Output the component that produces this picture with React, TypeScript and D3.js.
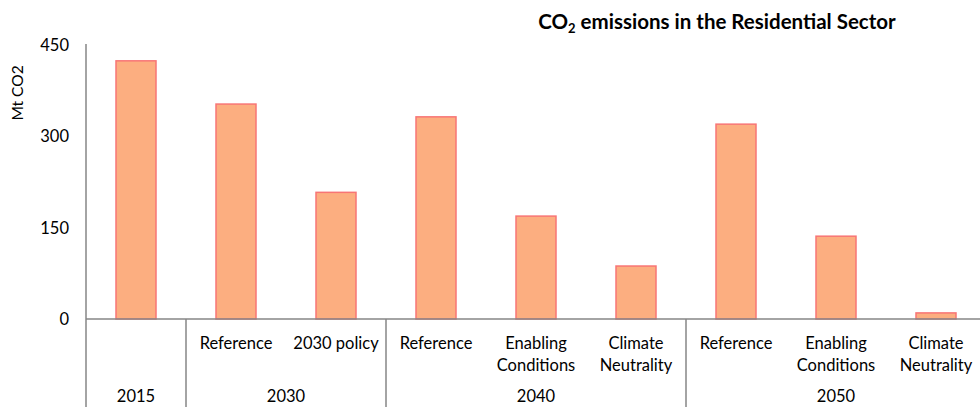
import React from "react";
import * as d3 from "d3";

const categories = ["2015", "2030-Reference", "2030-2030 policy", "2040-Reference", "2040-Enabling Conditions", "2040-Climate Neutrality", "2050-Reference", "2050-Enabling Conditions", "2050-Climate Neutrality"];
const subLabels = [[""], ["Reference"], ["2030 policy"], ["Reference"], ["Enabling", "Conditions"], ["Climate", "Neutrality"], ["Reference"], ["Enabling", "Conditions"], ["Climate", "Neutrality"]];
const values = [424, 353, 208, 332, 169, 87, 320, 136, 10];
const groups = ["2015", "2030", "2040", "2050"];
const groupSizes = [1, 2, 3, 3];
const yTicks = [0, 150, 300, 450];

const W = 980, H = 407;
const left = 86, right = 986, top = 45, zeroY = 319;
const FONT = "Lato, 'Open Sans', sans-serif";

export default function App() {
  const x = d3.scaleBand<string>().domain(categories).range([left, right]).paddingInner(0.6).paddingOuter(0.3);
  const y = d3.scaleLinear().domain([0, 450]).range([zeroY, top]);
  const step = x.step();
  const bw = x.bandwidth();
  const pad = x.paddingOuter() * step;

  const groupBounds: { name: string; x0: number; x1: number }[] = [];
  let idx = 0;
  groups.forEach((g, i) => {
    const first = categories[idx];
    const last = categories[idx + groupSizes[i] - 1];
    const x0 = (x(first) as number) - pad;
    const x1 = (x(last) as number) + bw + pad;
    groupBounds.push({ name: g, x0, x1 });
    idx += groupSizes[i];
  });

  const axisColor = "#868686";

  return (
    <svg width={W} height={H} style={{ position: "absolute", left: 0, top: 0, background: "#fff" }}>
      <text x={717} y={29} textAnchor="middle" fontFamily={FONT} fontWeight="bold" fontSize={20.5} fill="#000">
        CO<tspan fontSize={13} dy={4}>2</tspan>
        <tspan dy={-4}> emissions in the Residential Sector</tspan>
      </text>
      <text transform={`translate(23,${93}) rotate(-90)`} textAnchor="middle" fontFamily={FONT} fontSize={15.5} fill="#000">
        Mt CO2
      </text>
      {yTicks.map((t) => (
        <text key={t} x={69} y={y(t)} dy="0.36em" textAnchor="end" fontFamily={FONT} fontSize={16.5} fill="#000">
          {t}
        </text>
      ))}
      {categories.map((c, i) => (
        <rect key={c} x={x(c)} y={y(values[i])} width={bw} height={zeroY - y(values[i])} fill="#FCAE80" stroke="#F87575" strokeWidth={1.5} />
      ))}
      <line x1={left} x2={left} y1={top - 1} y2={H} stroke={axisColor} strokeWidth={1.5} />
      <line x1={left} x2={W} y1={zeroY} y2={zeroY} stroke={axisColor} strokeWidth={1.5} />
      {groupBounds.map((g) => (
        <line key={"d" + g.name} x1={g.x1} x2={g.x1} y1={zeroY} y2={H} stroke={axisColor} strokeWidth={1.5} />
      ))}
      {categories.map((c, i) => (
        <text key={"s" + c} x={(x(c) as number) + bw / 2} y={349} textAnchor="middle" fontFamily={FONT} fontSize={16.5} fill="#000">
          {subLabels[i].map((l, j) => (
            <tspan key={j} x={(x(c) as number) + bw / 2} dy={j === 0 ? 0 : 22}>{l}</tspan>
          ))}
        </text>
      ))}
      {groupBounds.map((g) => (
        <text key={"g" + g.name} x={(g.x0 + g.x1) / 2} y={402} textAnchor="middle" fontFamily={FONT} fontSize={16.5} fill="#000">
          {g.name}
        </text>
      ))}
    </svg>
  );
}
